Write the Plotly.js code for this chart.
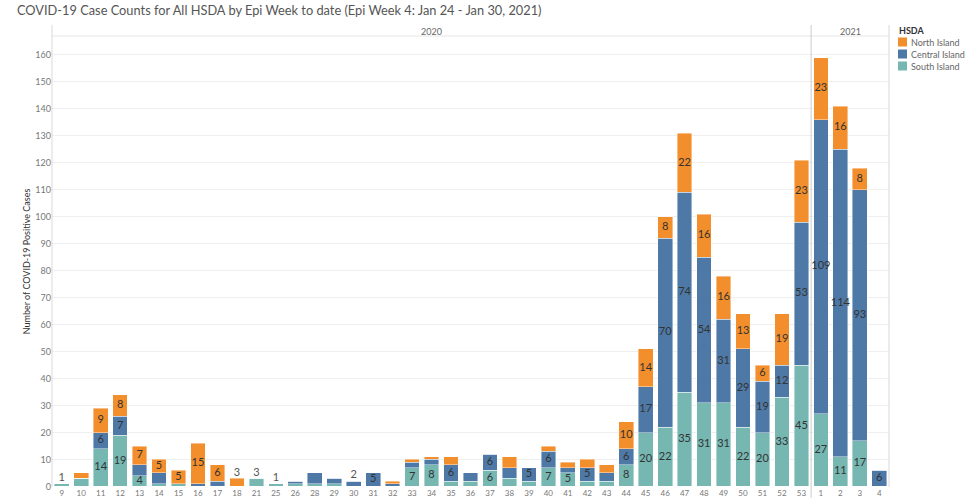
<!DOCTYPE html>
<html>
<head>
<meta charset="utf-8">
<script src="https://cdn.plot.ly/plotly-3.0.1.min.js"></script>
<style>
  html, body { margin: 0; padding: 0; background: #fff; }
  #chart { width: 974px; height: 501px; }
</style>
</head>
<body>
<div id="chart"></div>
<script>
// Epi weeks: 2020 weeks 9..53 (weeks with cases), then 2021 weeks 1..4
const weeks = ['9','10','11','12','13','14','15','16','17','18','21','25','26','28','29','30','31','32',
  '33','34','35','36','37','38','39','40','41','42','43','44',
  '45','46','47','48','49','50','51','52','53',
  '1','2','3','4'];
const weeks2020Count = 39;

// Case counts per HSDA, aligned with weeks
const southIsland = [1,3,14,19,4,1,1,0,0,0,3,1,1,1,1,0,0,0,
  7,8,2,2,6,3,2,7,5,2,2,8,
  20,22,35,31,31,22,20,33,45,
  27,11,17,0];
const centralIsland = [0,0,6,7,4,4,0,1,2,0,0,0,1,4,2,2,5,1,
  2,2,6,3,6,4,5,6,2,5,3,6,
  17,70,74,54,31,29,19,12,53,
  109,114,93,6];
const northIsland = [0,2,9,8,7,5,5,15,6,3,0,0,0,0,0,0,0,1,
  1,1,3,0,0,4,0,2,2,3,3,10,
  14,8,22,16,16,13,6,19,23,
  23,16,8,0];

const yearLabels = ['2020', '2021'];
const legendTitle = 'HSDA';
const titleText = 'COVID-19 Case Counts for All HSDA by Epi Week to date (Epi Week 4: Jan 24 - Jan 30, 2021)';

// stacking order bottom -> top
const series = [
  { name: 'South Island',   values: southIsland,   color: '#76B7B2', minLabel: 4 },
  { name: 'Central Island', values: centralIsland, color: '#4E79A7', minLabel: 5 },
  { name: 'North Island',   values: northIsland,   color: '#F28E2B', minLabel: 5 }
];

const FONT = 'Lato, "Open Sans", sans-serif';
const W = 974, H = 501;
const M = { l: 52, r: 85, t: 36, b: 14 };
const plotW = W - M.l - M.r, plotH = H - M.t - M.b;
// pixel -> paper helpers for the header and legend placement
const px = x => (x - M.l) / plotW;
const py = y => (H - M.b - y) / plotH;

const traces = [];
const base = weeks.map(() => 0);

series.forEach(s => {
  traces.push({
    type: 'bar', name: s.name, x: weeks, y: s.values,
    marker: { color: s.color, line: { color: 'rgba(255,255,255,0.7)', width: 0.6 } },
    hoverinfo: 'x+y+name', showlegend: false
  });
  // segment labels centred in each segment tall enough to hold them
  const mid = s.values.map((v, i) => base[i] + v / 2);
  const txt = s.values.map(v => (v >= s.minLabel ? String(v) : ''));
  traces.push({
    type: 'scatter', mode: 'text', x: weeks, y: mid, text: txt,
    textposition: 'middle center',
    textfont: { family: FONT, size: 11, color: '#333' },
    showlegend: false, hoverinfo: 'skip', cliponaxis: false
  });
  s.values.forEach((v, i) => { base[i] += v; });
});

// totals above small single-segment bars
const totalText = weeks.map((w, i) => {
  const nz = series.filter(s => s.values[i] > 0);
  if (nz.length === 1 && nz[0].values[i] < nz[0].minLabel) return String(base[i]);
  return '';
});
traces.push({
  type: 'scatter', mode: 'text', x: weeks, y: base, text: totalText,
  textposition: 'top center',
  textfont: { family: FONT, size: 11, color: '#555' },
  showlegend: false, hoverinfo: 'skip', cliponaxis: false
});

const sepX = weeks2020Count - 0.5;
const lineCol = '#d9d9d9';

const shapes = [
  // header rule
  { type: 'line', xref: 'paper', yref: 'paper', x0: 0, x1: 1, y0: 1, y1: 1,
    line: { color: '#e6e6e6', width: 1 } },
  // panel borders and year separator
  { type: 'line', xref: 'paper', yref: 'paper', x0: 0, x1: 0, y0: 0, y1: py(25),
    line: { color: lineCol, width: 1 } },
  { type: 'line', xref: 'paper', yref: 'paper', x0: 1, x1: 1, y0: 0, y1: py(25),
    line: { color: lineCol, width: 1 } },
  { type: 'line', xref: 'x', yref: 'paper', x0: sepX, x1: sepX, y0: py(498), y1: py(25),
    line: { color: '#cccccc', width: 1 } }
];

const annotations = [
  { text: yearLabels[0], xref: 'x', yref: 'paper', x: (weeks2020Count - 1) / 2, y: py(31),
    showarrow: false, yanchor: 'middle', font: { family: FONT, size: 9, color: '#666' } },
  { text: yearLabels[1], xref: 'x', yref: 'paper', x: (weeks2020Count + weeks.length - 1) / 2, y: py(31),
    showarrow: false, yanchor: 'middle', font: { family: FONT, size: 9, color: '#666' } },
  { text: '<b>' + legendTitle + '</b>', xref: 'paper', yref: 'paper', x: px(897), y: py(30),
    xanchor: 'left', yanchor: 'middle', showarrow: false,
    font: { family: FONT, size: 9, color: '#333' } }
];

// legend: North, Central, South from top
series.slice().reverse().forEach((s, k) => {
  const cy = 42 + k * 12;
  shapes.push({ type: 'rect', xref: 'paper', yref: 'paper',
    x0: px(898), x1: px(907), y0: py(cy + 4.5), y1: py(cy - 4.5),
    fillcolor: s.color, line: { width: 0 } });
  annotations.push({ text: s.name, xref: 'paper', yref: 'paper', x: px(909), y: py(cy),
    xanchor: 'left', yanchor: 'middle', showarrow: false,
    font: { family: FONT, size: 9, color: '#666' } });
});

const layout = {
  width: W, height: H,
  margin: { l: M.l, r: M.r, t: M.t, b: M.b, autoexpand: false },
  paper_bgcolor: '#fff', plot_bgcolor: '#fff',
  font: { family: FONT, color: '#666' },
  title: {
    text: titleText, x: 17 / W, xref: 'container', xanchor: 'left',
    y: 1 - 11 / H, yref: 'container', yanchor: 'middle',
    font: { family: FONT, size: 12.8, color: '#555' }
  },
  barmode: 'stack', bargap: 0.245,
  showlegend: false,
  xaxis: {
    type: 'category', categoryorder: 'array', categoryarray: weeks,
    showgrid: false, zeroline: false, showline: false, ticks: '',
    tickfont: { family: FONT, size: 8, color: '#777' },
    range: [-0.5, weeks.length - 0.5]
  },
  yaxis: {
    range: [-0.2, 167], tick0: 0, dtick: 10,
    showgrid: true, gridcolor: '#efefef', gridwidth: 1,
    zeroline: false, showline: false, ticks: '',
    tickfont: { family: FONT, size: 9, color: '#777' },
    title: { text: 'Number of COVID-19 Positive Cases', standoff: 3,
             font: { family: FONT, size: 9, color: '#333' } }
  },
  shapes: shapes,
  annotations: annotations
};

Plotly.newPlot('chart', traces, layout, { displayModeBar: false, staticPlot: true });
</script>
</body>
</html>
